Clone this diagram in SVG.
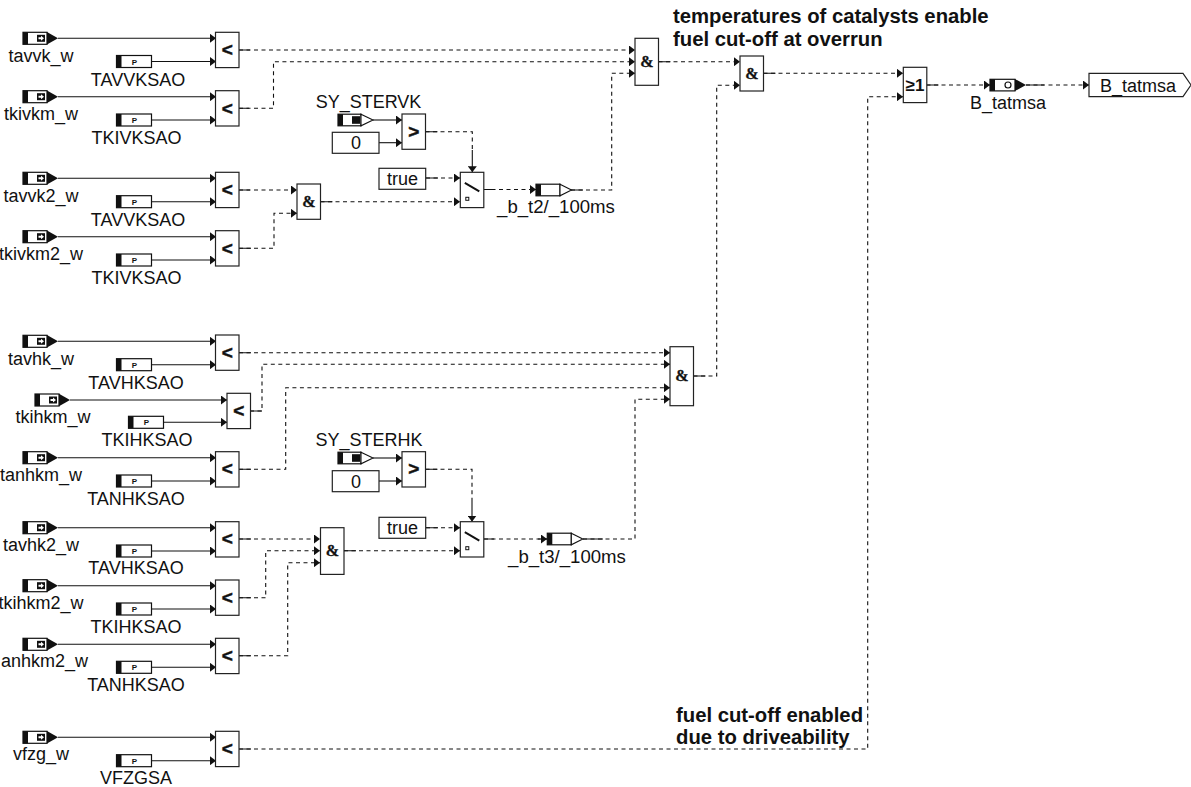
<svg xmlns="http://www.w3.org/2000/svg" xmlns:xlink="http://www.w3.org/1999/xlink" width="1191" height="787" viewBox="0 0 1191 787">
<style>
text{font-family:"Liberation Sans",Arial,sans-serif;font-size:18px;fill:#111}
.c{text-anchor:middle}
.b{font-weight:bold}
.n{font-weight:bold;font-size:20.300px}
.o{font-weight:bold;font-size:19px;text-anchor:middle;stroke:#111;stroke-width:.5}
.a{font-family:"Liberation Serif","Times New Roman",serif;font-weight:bold;font-size:16px;text-anchor:middle;stroke:#111;stroke-width:.3}
.box{fill:#fff;stroke:#222;stroke-width:1.2}
.s,.d{fill:none;stroke:#111;stroke-width:1.1}
.d{stroke-dasharray:4 3.5}
.m{marker-end:url(#ah)}
</style>
<defs>
<marker id="ah" markerUnits="userSpaceOnUse" markerWidth="7" markerHeight="9" refX="6" refY="4.5" orient="auto"><path d="M0 0L6 4.5L0 9z" fill="#111"/></marker>
<g id="inp"><rect x="0" y="-6" width="24" height="12" fill="#fff" stroke="#111" stroke-width="1.2"/><rect x="0" y="-6" width="5" height="12" fill="#111"/><path d="M24-6.300L35 0L24 6.300z" fill="#111"/><rect x="14" y="-3.500" width="8" height="7" fill="#111"/><path d="M15.500-1H18V-2.500L21 0L18 2.500V1H15.500z" fill="#fff"/></g>
<g id="par"><rect x="0" y="-6" width="35" height="12" fill="#fff" stroke="#111" stroke-width="1.2"/><rect x="0" y="-6" width="5" height="12" fill="#111"/><text x="18" y="3" class="b c" style="font-size:8px">P</text></g>
<g id="sys"><rect x="0" y="-5.800" width="23" height="11.600" fill="#fff" stroke="#111" stroke-width="1.2"/><rect x="0" y="-5.800" width="5" height="11.600" fill="#111"/><rect x="14" y="-3.800" width="8" height="7.600" fill="#111"/><path d="M23-5.800L35 0L23 5.800z" fill="#fff" stroke="#111" stroke-width="1.1"/></g>
<g id="loc"><rect x="0" y="-5.800" width="24" height="11.600" fill="#fff" stroke="#111" stroke-width="1.2"/><rect x="0" y="-5.800" width="5" height="11.600" fill="#111"/><path d="M24-5.800L35.500 0L24 5.800z" fill="#fff" stroke="#111" stroke-width="1.1"/></g>
<g id="cmp"><rect class="box" x="0" y="0" width="23.500" height="35.300"/></g>
<g id="sw"><rect class="box" x="0" y="0" width="23.500" height="35.300"/><path d="M4.500 10.500L19 19" fill="none" stroke="#111" stroke-width="2"/><rect x="5.500" y="25" width="3" height="3" fill="#fff" stroke="#111"/></g>
</defs>
<g id="connectors">
<path class="s m" d="M58 38.300H216"/><path class="s m" d="M152 61.500H216"/>
<path class="s m" d="M58 96.700H216"/><path class="s m" d="M152 120H216"/>
<path class="s m" d="M58 178.300H216"/><path class="s m" d="M152 201.700H216"/>
<path class="s m" d="M58 236.700H216"/><path class="s m" d="M152 260H216"/>
<path class="s m" d="M58 341.300H216"/><path class="s m" d="M152 364.700H216"/>
<path class="s m" d="M70 400H227"/><path class="s m" d="M164 422.300H227"/>
<path class="s m" d="M58 457.700H216"/><path class="s m" d="M152 481H216"/>
<path class="s m" d="M58 527.700H216"/><path class="s m" d="M152 551H216"/>
<path class="s m" d="M58 585.700H216"/><path class="s m" d="M152 609H216"/>
<path class="s m" d="M58 644.300H216"/><path class="s m" d="M152 667.300H216"/>
<path class="s m" d="M58 737.300H216"/><path class="s m" d="M152 760.700H216"/>
<path class="s m" d="M373 120H402"/><path class="s m" d="M379 142.700H402"/>
<path class="s m" d="M373 458H402"/><path class="s m" d="M379 481H402"/>
<path class="d m" d="M239 50H635"/>
<path class="d m" d="M239 108.300H273.500V61.700H635"/>
<path class="d m" d="M658.500 61.700H740"/>
<path class="d m" d="M484 189.500H536"/>
<path class="d m" d="M239 190H297"/>
<path class="d m" d="M239 248.300H274V213.300H297"/>
<path class="d m" d="M320.500 201.700H460"/>
<path class="d m" d="M426 178H460"/>
<path class="d" d="M425.500 131.700H472.300V150"/>
<path class="s m" d="M472.300 150V172.300"/>
<path class="d m" d="M571 190H611.700V73.300H635"/>
<path class="d m" d="M693.500 376H716.700V85.300H740"/>
<path class="d m" d="M763.500 73.300H903"/>
<path class="d m" d="M926.500 85H990"/>
<path class="d m" d="M1026 85H1089"/>
<path class="d m" d="M239 352.700H670"/>
<path class="d m" d="M250 411H262V364.300H670"/>
<path class="d m" d="M239 469.300H285.700V387.700H670"/>
<path class="d m" d="M239 539H320"/>
<path class="d m" d="M239 597.700H265.700V550.700H320"/>
<path class="d m" d="M239 655.700H287.700V562.700H320"/>
<path class="d m" d="M344 550.700H460"/>
<path class="d m" d="M426 527.700H460"/>
<path class="d" d="M425.500 469.300H472V500"/>
<path class="s m" d="M472 500V521.700"/>
<path class="d m" d="M484 539H547"/>
<path class="d m" d="M583 539H635V399.300H670"/>
<path class="d m" d="M239 749H867.700V96.700H903"/>
<path class="s" d="M239 50h11M239 108.300h10M239 190h11M239 248.300h12M239 352.700h12M250 411h12M239 469.300h12M239 539h12M239 597.700h12M239 655.700h12M239 749h12M320.500 201.700h12M344 550.700h12M658.500 61.700h12M763.500 73.300h12M926.500 85h12M1026 85h18M425.500 131.700h12M425.500 469.300h12M484 189.500h10M484 539h10M571 190h12M583 539h20M693.500 376h12M426 178h12M426 527.700h12M530 189.500h6M538 539h9"/>
</g>
<g id="n1"><use xlink:href="#inp" href="#inp" x="23" y="38.300"/><text class="c" x="41" y="61.500">tavvk_w</text></g>
<g id="n2"><use href="#par" x="116.500" y="61.500"/><text class="c" x="138" y="85.500">TAVVKSAO</text></g>
<g id="n3"><use href="#cmp" x="215.500" y="32.300"/><text class="o" x="227.300" y="56">&lt;</text></g>
<g id="n4"><use href="#inp" x="23" y="96.700"/><text class="c" x="41" y="120">tkivkm_w</text></g>
<g id="n5"><use href="#par" x="116.500" y="120"/><text class="c" x="136.500" y="144">TKIVKSAO</text></g>
<g id="n6"><use href="#cmp" x="215.500" y="90.700"/><text class="o" x="227.300" y="114.500">&lt;</text></g>
<g id="n7"><use href="#inp" x="23" y="178.300"/><text class="c" x="41" y="201.500">tavvk2_w</text></g>
<g id="n8"><use href="#par" x="116.500" y="201.700"/><text class="c" x="138" y="225.500">TAVVKSAO</text></g>
<g id="n9"><use href="#cmp" x="215.500" y="172.300"/><text class="o" x="227.300" y="196">&lt;</text></g>
<g id="n10"><use href="#inp" x="23" y="236.700"/><text class="c" x="41" y="260">tkivkm2_w</text></g>
<g id="n11"><use href="#par" x="116.500" y="260"/><text class="c" x="136.500" y="284">TKIVKSAO</text></g>
<g id="n12"><use href="#cmp" x="215.500" y="230.700"/><text class="o" x="227.300" y="254.500">&lt;</text></g>
<g id="n13"><use href="#inp" x="23" y="341.300"/><text class="c" x="41" y="365">tavhk_w</text></g>
<g id="n14"><use href="#par" x="116.500" y="364.700"/><text class="c" x="136" y="388.500">TAVHKSAO</text></g>
<g id="n15"><use href="#cmp" x="215.500" y="335"/><text class="o" x="227.300" y="358.500">&lt;</text></g>
<g id="n16"><use href="#inp" x="35" y="400"/><text class="c" x="53" y="423">tkihkm_w</text></g>
<g id="n17"><use href="#par" x="128.500" y="422.300"/><text class="c" x="147" y="446">TKIHKSAO</text></g>
<g id="n18"><use href="#cmp" x="227" y="393.300"/><text class="o" x="238.800" y="417">&lt;</text></g>
<g id="n19"><use href="#inp" x="23" y="457.700"/><text class="c" x="41" y="481">tanhkm_w</text></g>
<g id="n20"><use href="#par" x="116.500" y="481"/><text class="c" x="136" y="505">TANHKSAO</text></g>
<g id="n21"><use href="#cmp" x="215.500" y="451.700"/><text class="o" x="227.300" y="475">&lt;</text></g>
<g id="n22"><use href="#inp" x="23" y="527.700"/><text class="c" x="41" y="551">tavhk2_w</text></g>
<g id="n23"><use href="#par" x="116.500" y="551"/><text class="c" x="136" y="574">TAVHKSAO</text></g>
<g id="n24"><use href="#cmp" x="215.500" y="521.700"/><text class="o" x="227.300" y="545">&lt;</text></g>
<g id="n25"><use href="#inp" x="23" y="585.700"/><text class="c" x="41" y="609">tkihkm2_w</text></g>
<g id="n26"><use href="#par" x="116.500" y="609"/><text class="c" x="136" y="633">TKIHKSAO</text></g>
<g id="n27"><use href="#cmp" x="215.500" y="580"/><text class="o" x="227.300" y="603.500">&lt;</text></g>
<g id="n28"><use href="#inp" x="23" y="644.300"/><text x="1" y="667">anhkm2_w</text></g>
<g id="n29"><use href="#par" x="116.500" y="667.300"/><text class="c" x="136" y="691">TANHKSAO</text></g>
<g id="n30"><use href="#cmp" x="215.500" y="638.300"/><text class="o" x="227.300" y="662">&lt;</text></g>
<g id="n31"><use href="#inp" x="23" y="737.300"/><text class="c" x="41" y="760">vfzg_w</text></g>
<g id="n32"><use href="#par" x="116.500" y="760.700"/><text class="c" x="136" y="784">VFZGSA</text></g>
<g id="n33"><use href="#cmp" x="215.500" y="731.300"/><text class="o" x="227.300" y="755">&lt;</text></g>
<g id="and1"><rect class="box" x="635" y="38.300" width="23.500" height="47"/><text class="a" x="646.800" y="67">&amp;</text></g>
<g id="and2"><rect class="box" x="740" y="56" width="23.500" height="35"/><text class="a" x="751.800" y="79">&amp;</text></g>
<g id="and3"><rect class="box" x="297" y="184" width="23.500" height="35.300"/><text class="a" x="308.800" y="207">&amp;</text></g>
<g id="and4"><rect class="box" x="670" y="346.700" width="23.500" height="59"/><text class="a" x="681.800" y="381">&amp;</text></g>
<g id="and5"><rect class="box" x="320.500" y="527.700" width="23.500" height="46.700"/><text class="a" x="332.300" y="556">&amp;</text></g>
<g id="or1"><rect class="box" x="903.300" y="67.300" width="23.500" height="35.300"/><text class="b c" x="915" y="91" style="font-size:17px">≥1</text></g>
<g id="out1"><path class="box" d="M1089 73.300H1183L1191 85L1183 96.700H1089z"/><text class="c" x="1138" y="91.500">B_tatmsa</text></g>
<g id="msg"><rect x="990" y="79.300" width="25" height="11.600" fill="#fff" stroke="#111" stroke-width="1.2"/><rect x="990" y="79.300" width="5" height="11.600" fill="#111"/><path d="M1015 79L1026 85L1015 91z" fill="#111"/><circle cx="1008" cy="85" r="3" fill="#fff" stroke="#111" stroke-width="1.200"/><text class="c" x="1008" y="109">B_tatmsa</text></g>
<g id="sy1"><use href="#sys" x="338" y="120"/><text class="c" x="368.500" y="108">SY_STERVK</text></g>
<g id="gt1"><use href="#cmp" x="402" y="114"/><text class="o" x="413.800" y="137.500">&gt;</text></g>
<g id="zero1"><rect class="box" x="332.300" y="132.300" width="46.700" height="21"/><text class="c" x="356" y="149">0</text></g>
<g id="true1"><rect class="box" x="379" y="168.300" width="46.700" height="21"/><text class="c" x="402.500" y="185">true</text></g>
<g id="sw1"><use href="#sw" x="460.300" y="172.300"/></g>
<g id="loc1"><use href="#loc" x="536" y="190"/><text class="c" x="556" y="213" style="font-size:18.600px">_b_t2/_100ms</text></g>
<g id="sy2"><use href="#sys" x="338" y="458"/><text class="c" x="369" y="446">SY_STERHK</text></g>
<g id="gt2"><use href="#cmp" x="402" y="451.700"/><text class="o" x="413.800" y="475">&gt;</text></g>
<g id="zero2"><rect class="box" x="332.300" y="470.700" width="46.700" height="21"/><text class="c" x="356" y="487.500">0</text></g>
<g id="true2"><rect class="box" x="379" y="517.300" width="46.700" height="21"/><text class="c" x="402.500" y="534">true</text></g>
<g id="sw2"><use href="#sw" x="460.300" y="521.700"/></g>
<g id="loc2"><use href="#loc" x="547.300" y="539"/><text class="c" x="567" y="563" style="font-size:18.600px">_b_t3/_100ms</text></g>
<g id="notes">
<text class="n" x="673" y="23">temperatures of catalysts enable</text>
<text class="n" x="673" y="45.500">fuel cut-off at overrun</text>
<text class="n" x="676" y="721.500">fuel cut-off enabled</text>
<text class="n" x="676" y="743.500">due to driveability</text>
</g>
</svg>
